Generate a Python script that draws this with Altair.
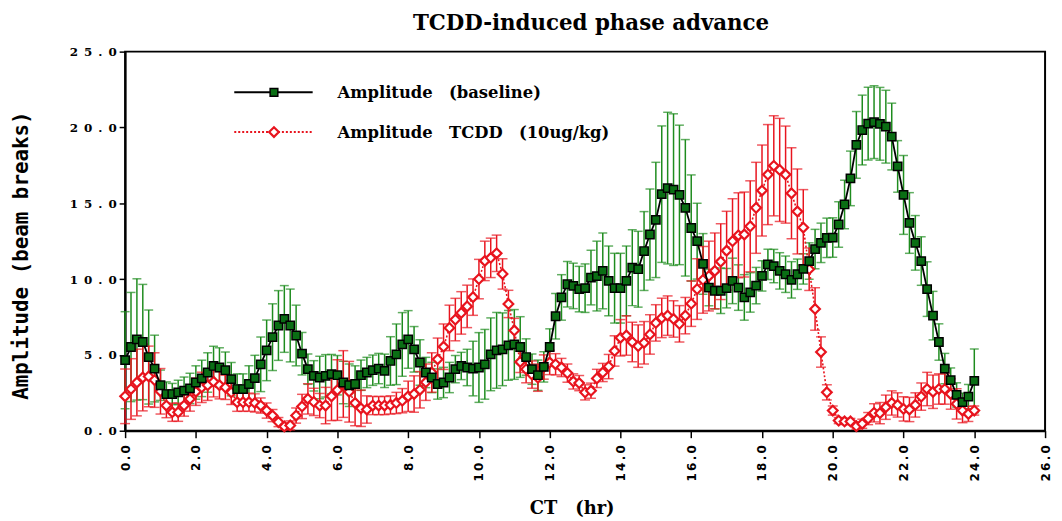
import altair as alt
import pandas as pd

# Sampling: every 10 minutes from CT 0 to CT 24 (145 samples)
STEP_MIN = 10
N = 145
ct = [round(i * STEP_MIN / 60.0, 4) for i in range(N)]

baseline_mean = [
    4.65, 5.52, 6.02, 5.85, 4.86, 4.10, 3.00, 2.42, 2.42, 2.53,
    2.64, 2.79, 3.18, 3.45, 3.84, 4.27, 4.17, 3.99, 3.40, 2.75,
    2.75, 3.08, 3.47, 4.38, 5.30, 6.17, 6.94, 7.37, 6.94, 6.28,
    5.08, 4.06, 3.62, 3.51, 3.62, 3.73, 3.66, 3.18, 3.00, 3.08,
    3.66, 3.84, 3.99, 4.10, 3.95, 4.60, 5.04, 5.69, 6.02, 5.37,
    4.50, 3.84, 3.51, 3.08, 3.18, 3.51, 4.06, 4.27, 4.17, 4.10,
    4.17, 4.38, 5.04, 5.30, 5.37, 5.63, 5.69, 5.52, 4.86, 4.06,
    3.66, 4.21, 5.52, 7.55, 8.79, 9.66, 9.55, 9.34, 9.40, 10.10,
    10.20, 10.54, 9.88, 9.40, 9.40, 9.88, 10.75, 10.65, 11.85, 12.94,
    13.90, 15.60, 16.00, 15.90, 15.55, 14.70, 13.37, 12.50, 11.00, 9.44,
    9.23, 9.23, 9.40, 9.88, 9.44, 8.79, 9.12, 9.57, 10.21, 10.97,
    10.86, 10.54, 10.32, 9.95, 10.32, 10.67, 11.19, 11.98, 12.39, 12.72,
    12.74, 13.60, 14.92, 16.64, 18.85, 19.83, 20.25, 20.35, 20.24, 20.05,
    19.40, 17.43, 15.55, 13.70, 12.39, 11.19, 9.34, 7.59, 5.85, 4.10,
    3.34, 2.36, 1.88, 2.25, 3.29,
]
baseline_sem = [
    3.2, 3.6, 4.0, 3.8, 3.1, 2.2, 1.0, 0.8, 0.7, 0.8,
    0.9, 1.0, 1.1, 1.2, 1.3, 1.3, 1.3, 1.2, 1.1, 1.0,
    1.0, 1.2, 1.5, 1.8, 2.0, 2.2, 2.3, 2.2, 2.4, 2.0,
    1.4, 1.0, 1.0, 1.4, 1.4, 1.3, 1.3, 1.4, 1.4, 1.2,
    1.0, 1.0, 1.0, 1.0, 1.1, 1.6, 2.0, 2.1, 1.9, 1.5,
    1.5, 1.0, 1.0, 1.0, 1.0, 1.0, 0.9, 0.9, 1.2, 1.8,
    2.3, 2.3, 2.4, 2.5, 2.4, 2.3, 2.3, 2.0, 1.2, 1.0,
    1.0, 1.0, 1.2, 1.5, 1.5, 1.5, 1.5, 1.5, 1.6, 1.8,
    2.3, 2.5, 2.3, 2.3, 2.3, 2.3, 2.5, 2.5, 2.6, 3.0,
    3.8, 4.5, 5.0, 5.0, 4.6, 4.5, 3.5, 2.5, 2.0, 1.2,
    1.2, 1.5, 1.3, 1.5, 1.5, 1.5, 1.3, 1.2, 1.0, 1.0,
    1.1, 1.2, 1.2, 1.2, 1.0, 1.0, 1.2, 1.3, 1.3, 1.3,
    1.3, 1.5, 1.6, 1.8, 2.2, 2.3, 2.4, 2.4, 2.4, 2.4,
    2.2, 1.7, 2.6, 2.0, 1.8, 1.6, 1.8, 1.6, 1.2, 1.0,
    0.8, 0.8, 0.6, 0.8, 2.1,
]
tcdd_mean = [
    2.27, 2.75, 3.18, 3.51, 3.58, 3.34, 2.60, 1.66, 1.22, 1.22,
    1.66, 2.09, 2.57, 2.86, 3.00, 3.23, 3.00, 2.86, 2.53, 1.88,
    1.88, 1.88, 1.83, 1.66, 1.33, 1.00, 0.57, 0.28, 0.35, 1.00,
    1.60, 2.10, 1.90, 1.66, 1.66, 2.27, 2.68, 3.08, 2.57, 1.83,
    1.48, 1.40, 1.66, 1.66, 1.66, 1.70, 1.83, 1.98, 2.27, 2.42,
    2.70, 3.20, 3.84, 4.71, 5.54, 6.78, 7.33, 7.77, 8.20, 8.81,
    10.00, 11.20, 11.40, 11.70, 10.34, 8.36, 6.61, 4.54, 4.06, 3.70,
    3.50, 4.20, 4.50, 4.38, 4.17, 3.80, 3.25, 3.14, 2.53, 2.64,
    3.45, 3.84, 4.23, 5.26, 6.13, 6.28, 5.85, 5.58, 5.80, 6.35,
    7.11, 7.44, 7.59, 7.37, 7.05, 7.59, 8.38, 9.34, 9.95, 10.20,
    10.54, 11.15, 11.87, 12.50, 12.89, 12.94, 13.48, 14.70, 15.84, 16.89,
    17.47, 17.20, 16.89, 15.66, 14.46, 13.40, 10.65, 8.03, 5.19, 2.53,
    1.33, 0.67, 0.61, 0.61, 0.30, 0.46, 0.80, 1.18, 1.16, 1.55,
    1.83, 1.70, 1.44, 1.40, 1.70, 2.25, 2.75, 2.57, 2.75, 2.75,
    2.42, 1.77, 1.33, 1.11, 1.33,
]
tcdd_sem = [
    1.8, 2.0, 2.2, 2.2, 2.0, 1.8, 1.5, 0.8, 0.6, 0.6,
    0.7, 0.8, 0.9, 1.0, 1.0, 1.0, 0.9, 0.8, 0.8, 0.6,
    0.6, 0.6, 0.6, 0.5, 0.5, 0.4, 0.3, 0.2, 0.3, 0.5,
    0.8, 1.0, 0.9, 0.8, 1.2, 1.6, 2.0, 2.2, 2.0, 1.5,
    1.2, 0.9, 0.6, 0.6, 0.6, 0.6, 0.7, 0.8, 1.0, 1.2,
    1.2, 1.2, 1.3, 1.4, 1.5, 1.5, 1.4, 1.4, 1.4, 1.2,
    1.3, 1.3, 1.3, 1.2, 1.0, 0.9, 0.8, 0.7, 0.9, 0.9,
    0.9, 0.8, 0.8, 0.7, 0.6, 0.6, 0.5, 0.5, 0.5, 0.5,
    0.6, 0.6, 0.8, 1.0, 1.2, 1.3, 1.3, 1.4, 1.4, 1.3,
    1.2, 1.3, 1.3, 1.2, 1.2, 1.2, 1.5, 2.0, 2.2, 2.3,
    2.5, 2.5, 2.6, 2.8, 2.8, 2.8, 3.0, 3.0, 3.0, 3.3,
    3.3, 3.4, 3.2, 3.0, 2.8, 2.5, 1.4, 1.4, 1.0, 0.5,
    0.3, 0.2, 0.2, 0.2, 0.2, 0.3, 0.4, 0.6, 0.7, 0.8,
    0.8, 0.8, 0.8, 0.8, 0.8, 0.9, 1.1, 1.1, 1.0, 1.0,
    1.0, 1.0, 0.8, 0.5, 0.3,
]

x_ticks = [0, 2, 4, 6, 8, 10, 12, 14, 16, 18, 20, 22, 24, 26]
y_ticks = [0, 5, 10, 15, 20, 25]

title_text = "TCDD-induced phase advance"
x_title = "CT\u2003(hr)"
y_title = "Amplitude (beam breaks)"
leg1 = "Amplitude\u2003(baseline)"
leg2 = "Amplitude\u2003TCDD\u2003(10ug/kg)"

GREEN_BAR = "#1e8c1e"
GREEN_FILL = "#0a6e14"
RED = "#e8141e"


def frame(mean, sem):
    return pd.DataFrame({
        "ct": ct,
        "v": mean,
        "lo": [m - s for m, s in zip(mean, sem)],
        "hi": [m + s for m, s in zip(mean, sem)],
    })


base_df = frame(baseline_mean, baseline_sem)
tcdd_df = frame(tcdd_mean, tcdd_sem)
one_row = pd.DataFrame({"k": [0]})

xs = alt.Scale(domain=[0, 26], nice=False, zero=False)
ys = alt.Scale(domain=[0, 25], nice=False)

X = alt.X(
    "ct:Q", scale=xs,
    axis=alt.Axis(
        values=x_ticks, title=x_title,
        labelExpr="join(split(format(datum.value, '.1f'), ''), '\u2009')",
        labelAngle=270, labelFont="DejaVu Sans", labelFontWeight="bold",
        labelFontSize=12, labelPadding=7, tickSize=7,
        titleFont="DejaVu Serif", titleFontWeight="bold", titleFontSize=18,
        titleX=450, titleY=78, titleBaseline="middle", titleAlign="center",
    ),
)
Y = alt.Y(
    "v:Q", scale=ys,
    axis=alt.Axis(
        values=y_ticks, title=y_title,
        labelExpr="join(split(format(datum.value, '.1f'), ''), '\u2002')",
        labelFont="DejaVu Serif", labelFontWeight="bold", labelFontSize=12,
        labelPadding=3, tickSize=6,
        titleFont="DejaVu Sans Mono", titleFontWeight="bold", titleFontSize=21,
        titleAngle=270, titleX=-104, titleY=205, titleBaseline="middle",
        titleAlign="center",
    ),
)


def errbars(df, color, cap):
    rule = alt.Chart(df).mark_rule(color=color, strokeWidth=1.5).encode(
        x=alt.X("ct:Q", scale=xs), y=alt.Y("lo:Q", scale=ys), y2="hi:Q"
    )
    top = alt.Chart(df).mark_tick(color=color, orient="horizontal", size=cap,
                                  thickness=1.5).encode(
        x=alt.X("ct:Q", scale=xs), y=alt.Y("hi:Q", scale=ys)
    )
    bot = alt.Chart(df).mark_tick(color=color, orient="horizontal", size=cap,
                                  thickness=1.5).encode(
        x=alt.X("ct:Q", scale=xs), y=alt.Y("lo:Q", scale=ys)
    )
    return rule + top + bot


g_err = errbars(base_df, GREEN_BAR, 9)
r_err = errbars(tcdd_df, RED, 10)

r_line = alt.Chart(tcdd_df).mark_line(color=RED, strokeWidth=1.6,
                                      strokeDash=[2, 2]).encode(x=X, y=Y)
r_pts = alt.Chart(tcdd_df).mark_point(shape="diamond", size=95, filled=True,
                                      fill="white", stroke=RED, strokeWidth=2.2,
                                      opacity=1).encode(x=X, y=Y)
g_line = alt.Chart(base_df).mark_line(color="black", strokeWidth=1.8).encode(x=X, y=Y)
g_pts = alt.Chart(base_df).mark_point(shape="square", size=70, filled=True,
                                      fill=GREEN_FILL, stroke="black",
                                      strokeWidth=1.5, opacity=1).encode(x=X, y=Y)

# Legend drawn inside the plot (pixel positions relative to plot area)
leg_l1 = alt.Chart(one_row).mark_rule(color="black", strokeWidth=2).encode(
    x=alt.value(110), x2=alt.value(189), y=alt.value(41))
leg_p1 = alt.Chart(one_row).mark_point(shape="square", size=60, filled=True,
                                       fill=GREEN_FILL, stroke="black",
                                       strokeWidth=1.5, opacity=1).encode(
    x=alt.value(150), y=alt.value(41))
leg_t1 = alt.Chart(one_row).mark_text(align="left", baseline="middle",
                                      font="DejaVu Serif", fontWeight="bold",
                                      fontSize=16.5, color="black",
                                      text=leg1).encode(
    x=alt.value(214), y=alt.value(42))
leg_l2 = alt.Chart(one_row).mark_rule(color=RED, strokeWidth=2,
                                      strokeDash=[2, 2]).encode(
    x=alt.value(110), x2=alt.value(189), y=alt.value(81))
leg_p2 = alt.Chart(one_row).mark_point(shape="diamond", size=95, filled=True,
                                       fill="white", stroke=RED, strokeWidth=2.2,
                                       opacity=1).encode(
    x=alt.value(150), y=alt.value(81))
leg_t2 = alt.Chart(one_row).mark_text(align="left", baseline="middle",
                                      font="DejaVu Serif", fontWeight="bold",
                                      fontSize=16.5, color="black",
                                      text=leg2).encode(
    x=alt.value(214), y=alt.value(82))

chart = alt.layer(
    g_err, r_err, r_line, r_pts, g_line, g_pts,
    leg_l1, leg_p1, leg_t1, leg_l2, leg_p2, leg_t2,
).properties(
    width=927, height=382,
    title=alt.TitleParams(title_text, font="DejaVu Serif", fontWeight="bold",
                          fontSize=21.5, anchor="middle", dx=6, offset=11,
                          color="black"),
    autosize=alt.AutoSizeParams(type="none"),
    padding={"left": 118, "top": 42, "right": 9, "bottom": 88},
).configure_view(
    stroke="black", strokeWidth=2
).configure_axis(
    domainColor="black", domainWidth=2, tickColor="black", tickWidth=1.5,
    labelColor="black", titleColor="black", grid=False,
)

chart.save("out.html", embed_options={"renderer": "svg", "actions": False})
